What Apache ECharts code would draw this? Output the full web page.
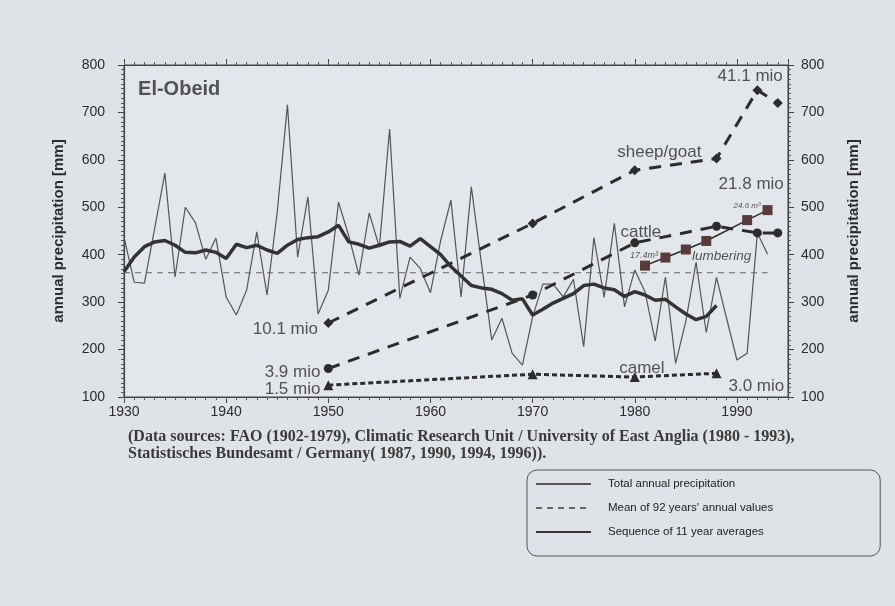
<!DOCTYPE html>
<html><head><meta charset="utf-8">
<script src="https://cdn.jsdelivr.net/npm/echarts@6/dist/echarts.min.js"></script>
<style>html,body{margin:0;padding:0;background:#dfe2e6}#c{width:895px;height:606px}</style>
</head><body><div id="c"></div>
<script>
// ---- data ----
const years = [1930,1931,1932,1933,1934,1935,1936,1937,1938,1939,1940,1941,1942,1943,1944,1945,1946,1947,1948,1949,
  1950,1951,1952,1953,1954,1955,1956,1957,1958,1959,1960,1961,1962,1963,1964,1965,1966,1967,1968,1969,
  1970,1971,1972,1973,1974,1975,1976,1977,1978,1979,1980,1981,1982,1983,1984,1985,1986,1987,1988,1989,
  1990,1991,1992,1993];
const precipitation = [437,342,340,455,572,353,500,467,390,435,311,273,325,448,315,490,716,395,522,275,
  325,511,440,357,488,416,665,308,395,371,320,430,515,311,543,380,220,266,192,167,
  269,338,338,311,348,206,436,310,466,290,368,322,218,353,171,260,384,236,352,265,
  178,192,446,401];
const avgYears = [1930,1931,1932,1933,1934,1935,1936,1937,1938,1939,1940,1941,1942,1943,1944,1945,1946,1947,1948,1949,
  1950,1951,1952,1953,1954,1955,1956,1957,1958,1959,1960,1961,1962,1963,1964,1965,1966,1967,1968,1969,
  1970,1971,1972,1973,1974,1975,1976,1977,1978,1979,1980,1981,1982,1983,1984,1985,1986,1987,1988];
const avg11 = [364,395,417,427,430,420,405,404,410,405,392,422,415,420,410,403,420,432,436,438,
  448,462,427,422,414,420,427,428,418,434,417,400,375,355,335,330,327,318,304,307,
  273,285,298,308,318,335,338,330,326,312,322,315,304,306,290,275,263,270,293];
const meanYears = [1930,1993];
const meanValues = [362,362];
const sheepYears = [1950,1970,1980,1988,1992,1994];
const sheepValues = [256,466,578,603,747,720];
const cattleYears = [1950,1970,1980,1988,1992,1994];
const cattleValues = [160,315,425,460,446,446];
const camelYears = [1950,1970,1980,1988];
const camelValues = [125,148,142,150];
const lumberYears = [1981,1983,1985,1987,1991,1993];
const lumberValues = [377,394,411,429,473,494];
const annoTexts = ['El-Obeid','10.1 mio','3.9 mio','1.5 mio','41.1 mio','sheep/goat','21.8 mio','24.6 m³','cattle','17.4m³','lumbering','camel','3.0 mio'];
const annoX = [1935.4,1945.8,1946.5,1946.5,1991.3,1982.4,1991.4,1991.0,1980.6,1980.9,1988.5,1980.7,1991.9];
const annoY = [749,243,151,117,776,615,549,503,447,399,397,160,122];
const xTicks = [1930,1940,1950,1960,1970,1980,1990];

// ---- chart ----
const font = '"Liberation Sans", Arial, sans-serif';
const pair = (xs, ys) => xs.map((x, i) => [x, ys[i]]);
const ink = '#2c2c2c';
const annoStyle = [
  {fontSize:20, fontWeight:'bold'},
  {fontSize:17},{fontSize:17},{fontSize:17},{fontSize:17},{fontSize:17},{fontSize:17},
  {fontSize:8, fontStyle:'italic'},
  {fontSize:17},
  {fontSize:9, fontStyle:'italic'},
  {fontSize:13.5, fontStyle:'italic'},
  {fontSize:17},{fontSize:17}
];
const xAxisBase = (pos, labels) => ({
  type:'value', min:1930, max:1995, interval:10, position:pos,
  axisLine:{show:true, onZero:false, lineStyle:{color:'#444', width:1.2}},
  axisTick:{show:true, length:6, lineStyle:{color:'#444'}},
  axisLabel:{show:labels, color:ink, fontSize:14, fontFamily:font, margin:8, showMaxLabel:false,
    formatter: v => xTicks.indexOf(v) >= 0 ? String(v) : ''},
  splitLine:{show:false}
});
const xAxisYearTicks = (pos) => ({
  type:'value', min:1930, max:1995, interval:1, position:pos,
  axisLine:{show:false, onZero:false},
  axisTick:{show:true, length:3, lineStyle:{color:'#555'}},
  axisLabel:{show:false},
  splitLine:{show:false}
});
const yAxisBase = (pos, gap, margin) => ({
  type:'value', min:100, max:800, interval:100, position:pos,
  name:'annual precipitation [mm]', nameLocation:'middle', nameGap:gap,
  nameTextStyle:{fontWeight:'bold', fontSize:15, color:ink, fontFamily:font},
  axisLine:{show:true, lineStyle:{color:'#444', width:1.2}},
  axisTick:{show:true, length:6, lineStyle:{color:'#444'}},
  minorTick:{show:true, splitNumber:10, length:3, lineStyle:{color:'#555'}},
  axisLabel:{color:ink, fontSize:14, fontFamily:font, margin:margin},
  splitLine:{show:false}
});
const option = {
  backgroundColor:'#dfe2e6',
  animation:false,
  title:{
    text:'(Data sources: FAO (1902-1979), Climatic Research Unit / University of East Anglia (1980 - 1993),\nStatistisches Bundesamt / Germany( 1987, 1990, 1994, 1996)).',
    left:128, top:428, padding:0,
    textStyle:{fontFamily:'"Liberation Serif", "Times New Roman", serif', fontSize:16, fontWeight:'bold', color:'#3a3a3a', lineHeight:17}
  },
  legend:{
    orient:'vertical', left:527, top:470,
    data:['Total annual precipitation',"Mean of 92 years' annual values",'Sequence of 11 year averages'],
    itemWidth:55, itemHeight:14, itemGap:12,
    padding:[8,107,18,8],
    borderColor:'#555', borderWidth:1, borderRadius:10,
    itemStyle:{opacity:0},
    textStyle:{fontFamily:font, fontSize:11.5, color:'#222', padding:[0,0,0,12]}
  },
  grid:{left:124, right:107, top:65, bottom:209, show:true, backgroundColor:'#e3e6ea', borderColor:'#444', borderWidth:1},
  xAxis:[xAxisBase('bottom', true), xAxisBase('top', false), xAxisYearTicks('bottom'), xAxisYearTicks('top')],
  yAxis:[yAxisBase('left', 58, 19), yAxisBase('right', 58, 13)],
  series:[
    {name:'Total annual precipitation', type:'line', data:pair(years, precipitation), symbol:'none',
      lineStyle:{color:'#555', width:1.2}, itemStyle:{color:'#555'}, z:2},
    {name:"Mean of 92 years' annual values", type:'line', data:pair(meanYears, meanValues), symbol:'none',
      lineStyle:{color:'#666', width:1, type:[6,5]}, itemStyle:{color:'#666'}, z:2},
    {name:'Sequence of 11 year averages', type:'line', data:pair(avgYears, avg11), symbol:'none',
      lineStyle:{color:'#333', width:3.5}, itemStyle:{color:'#333'}, z:4},
    {name:'sheep/goat', type:'line', data:pair(sheepYears, sheepValues), symbol:'diamond', symbolSize:10,
      lineStyle:{color:ink, width:3, type:[12,9]}, itemStyle:{color:ink}, z:3},
    {name:'cattle', type:'line', data:pair(cattleYears, cattleValues), symbol:'circle', symbolSize:9,
      lineStyle:{color:ink, width:3, type:[12,9]}, itemStyle:{color:ink}, z:3},
    {name:'camel', type:'line', data:pair(camelYears, camelValues), symbol:'triangle', symbolSize:10,
      lineStyle:{color:ink, width:3, type:[5,3]}, itemStyle:{color:ink}, z:3},
    {name:'lumbering', type:'line', data:pair(lumberYears, lumberValues), symbol:'rect', symbolSize:10,
      lineStyle:{color:ink, width:1.5}, itemStyle:{color:'#583c3c'}, z:3},
    {name:'annotations', type:'scatter', symbolSize:1, itemStyle:{color:'rgba(0,0,0,0)'}, z:6,
      data: annoTexts.map((t, i) => ({
        name:t, value:[annoX[i], annoY[i]],
        label:Object.assign({show:true, position:'inside', formatter:t, color:ink, fontFamily:font}, annoStyle[i])
      }))}
  ]
};
const chart = echarts.init(document.getElementById('c'));
chart.setOption(option);
</script>
</body></html>
